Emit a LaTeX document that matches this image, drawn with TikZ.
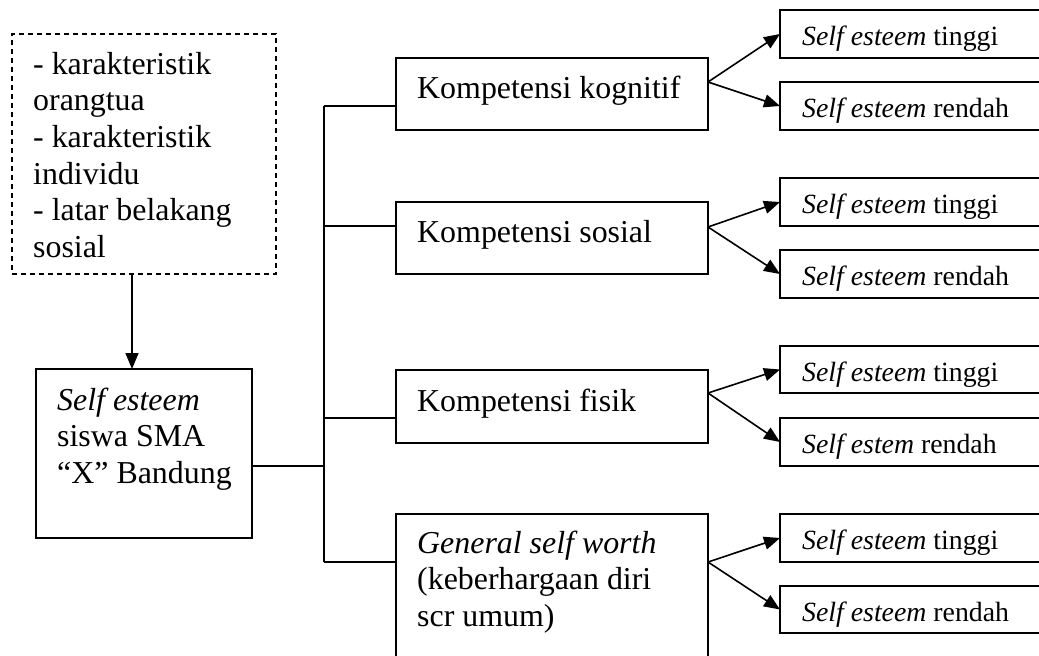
\documentclass[tikz,border=0pt]{standalone}
\usepackage{fontspec}
\setmainfont{Liberation Serif}
\usetikzlibrary{arrows.meta}
\newcommand{\boxlines}[1]{\begin{tabular}[t]{@{}l@{}}#1\end{tabular}}
\begin{document}
\begin{tikzpicture}[x=1pt,y=-1pt,
  box/.style={draw, line width=1.6pt, anchor=north west, inner sep=0pt, outer sep=0pt},
  dbox/.style={box, dash pattern=on 5pt off 4pt},
  txt/.style={anchor=base west, inner sep=0pt, font=\fontsize{31.9}{36.7}\selectfont},
  stxt/.style={anchor=base west, inner sep=0pt, font=\fontsize{27.8}{33}\selectfont},
  conn/.style={line width=1.6pt},
  arr/.style={line width=1.6pt, -{Triangle[length=16pt,width=13pt]}}]
\useasboundingbox (0,0) rectangle (1039,656);
\clip (0,0) rectangle (1039,656);

% left boxes
\node[dbox, minimum width=264, minimum height=240] (factors) at (12,34) {};
\node[txt] (factorstext) at (33,74) {\boxlines{- karakteristik\\orangtua\\- karakteristik\\individu\\- latar belakang\\sosial}};
\node[box, minimum width=216, minimum height=169] (main) at (36,369) {};
\node[txt] (maintext) at (57,410) {\boxlines{\textit{Self esteem}\\siswa SMA\\“X” Bandung}};

% middle boxes
\node[box, minimum width=312, minimum height=72] (k1) at (396,58) {};
\node[box, minimum width=312, minimum height=72] (k2) at (396,202) {};
\node[box, minimum width=312, minimum height=73] (k3) at (396,370) {};
\node[box, minimum width=312, minimum height=200] (k4) at (396,514) {};
\node[txt] (k1text) at (417,98) {Kompetensi kognitif};
\node[txt] (k2text) at (417,242) {Kompetensi sosial};
\node[txt] (k3text) at (417,411) {Kompetensi fisik};
\node[txt] (k4text) at (417,553) {\boxlines{\textit{General self worth}\\(keberhargaan diri\\scr umum)}};

% right boxes
\node[box, minimum width=300, minimum height=48] (r1a) at (780,10) {};
\node[box, minimum width=300, minimum height=48] (r1b) at (780,82) {};
\node[box, minimum width=300, minimum height=48] (r2a) at (780,178) {};
\node[box, minimum width=300, minimum height=48] (r2b) at (780,250) {};
\node[box, minimum width=300, minimum height=47] (r3a) at (780,346) {};
\node[box, minimum width=300, minimum height=48] (r3b) at (780,418) {};
\node[box, minimum width=300, minimum height=48] (r4a) at (780,514) {};
\node[box, minimum width=300, minimum height=47] (r4b) at (780,586) {};
\node[stxt] (r1atext) at (802,45) {\textit{Self esteem} tinggi};
\node[stxt] (r1btext) at (802,117) {\textit{Self esteem} rendah};
\node[stxt] (r2atext) at (802,213) {\textit{Self esteem} tinggi};
\node[stxt] (r2btext) at (802,285) {\textit{Self esteem} rendah};
\node[stxt] (r3atext) at (802,381) {\textit{Self esteem} tinggi};
\node[stxt] (r3btext) at (802,453) {\textit{Self estem} rendah};
\node[stxt] (r4atext) at (802,549) {\textit{Self esteem} tinggi};
\node[stxt] (r4btext) at (802,621) {\textit{Self esteem} rendah};

% connectors
\coordinate (fa) at (132,274);
\draw[arr] (fa) -- (main.north -| fa);
\coordinate (j0) at (324,466);
\coordinate (ttop) at (324,106);
\coordinate (b2) at (324,226);
\coordinate (b3) at (324,418);
\coordinate (tbot) at (324,562);
\draw[conn] (main.east |- j0) -- (j0);
\draw[conn] (ttop) -- (tbot);
\draw[conn] (ttop) -- (k1.west |- ttop);
\draw[conn] (b2) -- (k2.west |- b2);
\draw[conn] (b3) -- (k3.west |- b3);
\draw[conn] (tbot) -- (k4.west |- tbot);

\coordinate (s1) at (708,82);
\coordinate (s2) at (708,227);
\coordinate (s3) at (708,393);
\coordinate (s4) at (708,562);
\draw[arr] (s1) -- (r1a.west);
\draw[arr] (s1) -- (r1b.west);
\draw[arr] (s2) -- (r2a.west);
\draw[arr] (s2) -- (r2b.west);
\draw[arr] (s3) -- (r3a.west);
\draw[arr] (s3) -- (r3b.west);
\draw[arr] (s4) -- (r4a.west);
\draw[arr] (s4) -- (r4b.west);
\end{tikzpicture}
\end{document}
